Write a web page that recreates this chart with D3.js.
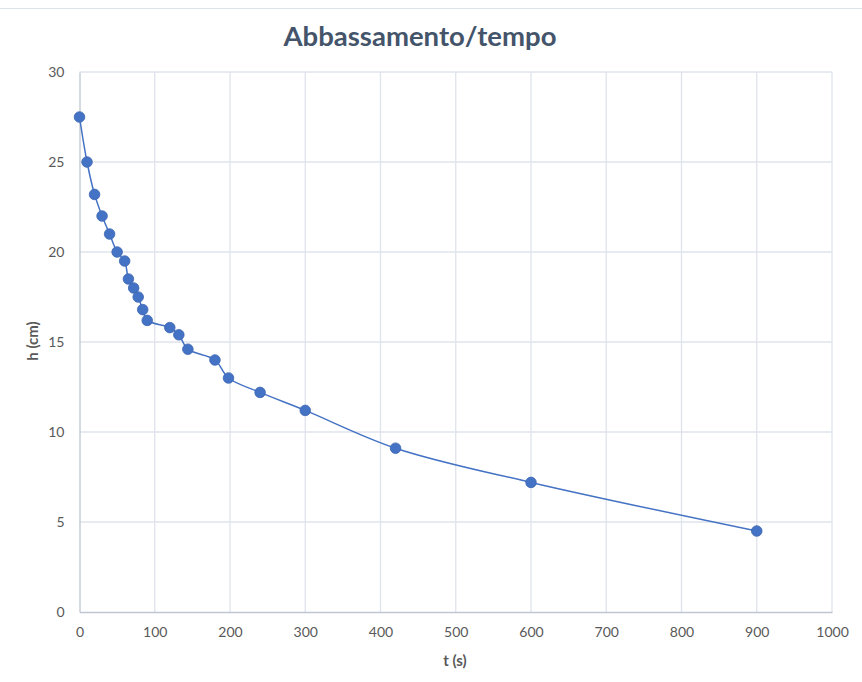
<!DOCTYPE html>
<html>
<head>
<meta charset="utf-8">
<script src="https://cdn.jsdelivr.net/npm/d3@7"></script>
<style>
  body { margin: 0; background: #fff; }
  svg { font-family: Lato, "Open Sans", sans-serif; }
</style>
</head>
<body>
<script>
// dati
var tempo = [0, 10, 20, 30, 40, 50, 60, 65, 72, 78, 84, 90, 120, 132, 144, 180, 198, 240, 300, 420, 600, 900];
var altezza = [27.5, 25, 23.2, 22, 21, 20, 19.5, 18.5, 18, 17.5, 16.8, 16.2, 15.8, 15.4, 14.6, 14, 13, 12.2, 11.2, 9.1, 7.2, 4.5];
var xTicks = [0, 100, 200, 300, 400, 500, 600, 700, 800, 900, 1000];
var yTicks = [0, 5, 10, 15, 20, 25, 30];
var titolo = "Abbassamento/tempo";

var width = 862, height = 682;
var mLeft = 79.5, mRight = 832, mTop = 72, mBottom = 612;

var svg = d3.select('body').append('svg')
    .attr('width', width)
    .attr('height', height);

// bordo superiore
svg.append('line')
    .attr('x1', 0).attr('x2', width)
    .attr('y1', 8.5).attr('y2', 8.5)
    .attr('stroke', '#dde2ea');

var xScale = d3.scaleLinear().domain([0, 1000]).range([mLeft, mRight]);
var yScale = d3.scaleLinear().domain([0, 30]).range([mBottom, mTop]);

// griglia
svg.append('g').selectAll('line').data(xTicks.slice(1)).enter().append('line')
    .attr('x1', d => xScale(d)).attr('x2', d => xScale(d))
    .attr('y1', mTop).attr('y2', mBottom)
    .attr('stroke', '#dfe3eb').attr('stroke-width', 1.3);
svg.append('g').selectAll('line').data(yTicks.slice(1)).enter().append('line')
    .attr('x1', mLeft).attr('x2', mRight)
    .attr('y1', d => yScale(d)).attr('y2', d => yScale(d))
    .attr('stroke', '#dfe3eb').attr('stroke-width', 1.3);

// assi
var xAxis = d3.axisBottom(xScale).tickValues(xTicks).tickFormat(d3.format('d')).tickSize(0).tickPadding(15);
var yAxis = d3.axisLeft(yScale).tickValues(yTicks).tickFormat(d3.format('d')).tickSize(0).tickPadding(15);

var gx = svg.append('g').attr('transform', 'translate(0,' + mBottom + ')').call(xAxis);
var gy = svg.append('g').attr('transform', 'translate(' + mLeft + ',0)').call(yAxis);
[gx, gy].forEach(function(g) {
    g.select('.domain').attr('stroke', '#bfc6d1').attr('stroke-width', 1.3);
    g.selectAll('text').attr('fill', '#595959').style('font-size', '14px').style('font-family', 'Lato, sans-serif');
});

// linea smussata
var line = d3.line()
    .x((d, i) => xScale(tempo[i]))
    .y((d, i) => yScale(altezza[i]))
    .curve(d3.curveCatmullRom.alpha(0.5));

svg.append('path')
    .datum(altezza)
    .attr('d', line)
    .attr('fill', 'none')
    .attr('stroke', '#4472c4')
    .attr('stroke-width', 1.5);

svg.append('g').selectAll('circle').data(altezza).enter().append('circle')
    .attr('cx', (d, i) => xScale(tempo[i]))
    .attr('cy', d => yScale(d))
    .attr('r', 5.3)
    .attr('fill', '#4472c4')
    .attr('stroke', '#3d67b3')
    .attr('stroke-width', 0.8);

// titolo ed etichette
svg.append('text')
    .attr('x', 420).attr('y', 46)
    .attr('text-anchor', 'middle')
    .attr('fill', '#44546a')
    .style('font-size', '27.5px').style('font-weight', 'bold')
    .text(titolo);

svg.append('text')
    .attr('x', 455).attr('y', 666)
    .attr('text-anchor', 'middle')
    .attr('fill', '#595959')
    .style('font-size', '15px').style('font-weight', 'bold')
    .text('t (s)');

svg.append('text')
    .attr('transform', 'translate(38,341) rotate(-90)')
    .attr('text-anchor', 'middle')
    .attr('fill', '#595959')
    .style('font-size', '15px').style('font-weight', 'bold')
    .text('h (cm)');
</script>
</body>
</html>
